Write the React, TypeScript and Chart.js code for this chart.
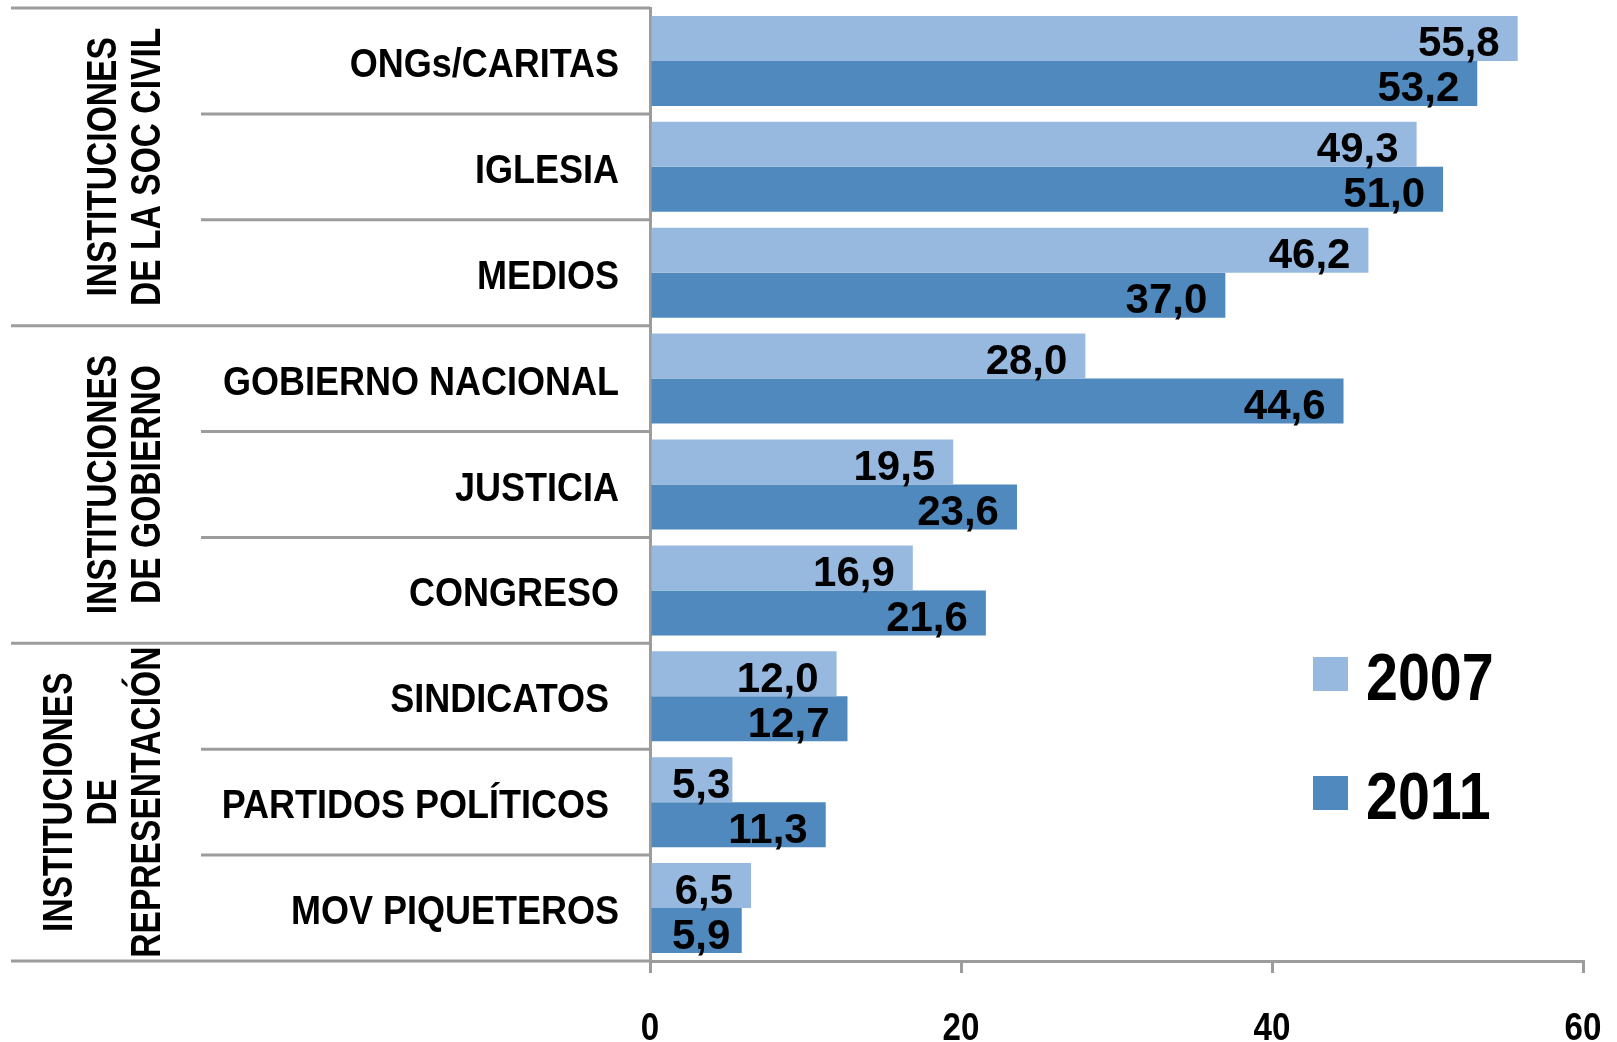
import React, { useEffect, useRef } from "react";
import { Chart, registerables } from "chart.js";
Chart.register(...registerables);

const categories = [
  "ONGs/CARITAS",
  "IGLESIA",
  "MEDIOS",
  "GOBIERNO NACIONAL",
  "JUSTICIA",
  "CONGRESO",
  "SINDICATOS ",
  "PARTIDOS POLÍTICOS ",
  "MOV PIQUETEROS",
];
const values2007 = [55.8, 49.3, 46.2, 28.0, 19.5, 16.9, 12.0, 5.3, 6.5];
const values2011 = [53.2, 51.0, 37.0, 44.6, 23.6, 21.6, 12.7, 11.3, 5.9];
const seriesLabels = ["2007", "2011"];
const seriesColors = ["#97B9E0", "#4F89BD"];
const groupLabels = [
  ["INSTITUCIONES", "DE LA SOC CIVIL"],
  ["INSTITUCIONES", "DE GOBIERNO"],
  ["INSTITUCIONES", "DE", "REPRESENTACIÓN"],
];
const groupSizes = [3, 3, 3];
const xMin = 0;
const xMax = 60;
const xStep = 20;

const GRID = "#9C9C9C";
const SANS = "'Liberation Sans', Arial, sans-serif";

const fmt = (v: number) => v.toFixed(1).replace(".", ",");

function squeezed(ctx: any, text: string, x: number, y: number, sx: number, align: string, rot = 0) {
  ctx.save();
  ctx.translate(x, y);
  if (rot) ctx.rotate(rot);
  ctx.scale(sx, 1);
  ctx.textAlign = align;
  ctx.fillText(text, 0, 0);
  ctx.restore();
}

const decorPlugin = {
  id: "decor",
  beforeDatasetsDraw(chart: any) {
    const ctx = chart.ctx;
    const ys = chart.scales.y;
    const left = chart.chartArea.left;
    const n = categories.length;
    const half = (ys.getPixelForValue(1) - ys.getPixelForValue(0)) / 2;
    const groupStarts = new Set<number>();
    let acc = 0;
    groupStarts.add(0);
    groupSizes.forEach((s) => {
      acc += s;
      groupStarts.add(acc);
    });
    ctx.save();
    ctx.strokeStyle = GRID;
    ctx.lineWidth = 3;
    for (let i = 0; i <= n; i++) {
      const py = i < n ? ys.getPixelForValue(i) - half : ys.getPixelForValue(n - 1) + half;
      const isGroup = groupStarts.has(i);
      ctx.beginPath();
      ctx.moveTo(isGroup ? 11 : 201, py);
      ctx.lineTo(left, py);
      ctx.stroke();
    }
    ctx.restore();
  },
  afterDraw(chart: any) {
    const ctx = chart.ctx;
    const ys = chart.scales.y;
    const xs = chart.scales.x;
    const left = chart.chartArea.left;
    const bottom = chart.chartArea.bottom;
    const half = (ys.getPixelForValue(1) - ys.getPixelForValue(0)) / 2;
    ctx.save();
    ctx.fillStyle = "#000";
    ctx.textBaseline = "alphabetic";

    // category labels
    ctx.font = `bold 40px ${SANS}`;
    categories.forEach((c, i) => {
      squeezed(ctx, c, left - 31, ys.getPixelForValue(i) + 16, 0.9, "right");
    });

    // group labels
    ctx.font = `bold 42px ${SANS}`;
    ctx.textBaseline = "middle";
    let start = 0;
    groupLabels.forEach((lines, g) => {
      const top = ys.getPixelForValue(start) - half;
      const bot = ys.getPixelForValue(start + groupSizes[g] - 1) + half;
      const cy = (top + bot) / 2;
      const lastX = 148;
      lines.forEach((line, li) => {
        const cx = lastX - (lines.length - 1 - li) * 44;
        squeezed(ctx, line, cx, cy, 0.8, "center", -Math.PI / 2);
      });
      start += groupSizes[g];
    });

    // x tick labels
    ctx.textBaseline = "alphabetic";
    ctx.font = `bold 39px ${SANS}`;
    xs.ticks.forEach((t: any) => {
      squeezed(ctx, String(t.value), xs.getPixelForValue(t.value), bottom + 79, 0.85, "center");
    });

    // data labels
    ctx.font = `bold 42px ${SANS}`;
    chart.data.datasets.forEach((ds: any, d: number) => {
      const meta = chart.getDatasetMeta(d);
      meta.data.forEach((bar: any, i: number) => {
        const txt = fmt(ds.data[i]);
        const w = ctx.measureText(txt).width;
        const startX = Math.max(left + 22, bar.x - 18 - w);
        squeezed(ctx, txt, startX, bar.y + 18, 1, "left");
      });
    });

    // legend
    const legendY = [657, 776];
    seriesLabels.forEach((lab, k) => {
      ctx.fillStyle = seriesColors[k];
      ctx.fillRect(1313, legendY[k], 35, 34);
      ctx.fillStyle = "#000";
      ctx.font = `bold 66px ${SANS}`;
      squeezed(ctx, lab, 1366, legendY[k] + 43, 0.87, "left");
    });
    ctx.restore();
  },
};

export default function App() {
  const ref = useRef<HTMLCanvasElement>(null);
  useEffect(() => {
    if (!ref.current) return;
    const chart = new Chart(ref.current, {
      type: "bar",
      data: {
        labels: categories,
        datasets: [
          { label: seriesLabels[0], data: values2007, backgroundColor: seriesColors[0], categoryPercentage: 0.85, barPercentage: 1 },
          { label: seriesLabels[1], data: values2011, backgroundColor: seriesColors[1], categoryPercentage: 0.85, barPercentage: 1 },
        ],
      },
      options: {
        indexAxis: "y",
        responsive: false,
        animation: false,
        layout: { padding: { top: 8, right: 34, left: 0, bottom: 0 } },
        plugins: { legend: { display: false }, tooltip: { enabled: false } },
        scales: {
          x: {
            min: xMin,
            max: xMax,
            ticks: { stepSize: xStep, display: false },
            grid: { drawOnChartArea: false, drawTicks: true, tickLength: 12, color: GRID, lineWidth: 3 },
            border: { color: GRID, width: 3 },
            afterFit: (s: any) => {
              s.height = 81;
            },
          },
          y: {
            ticks: { display: false },
            grid: { display: false, drawTicks: false },
            border: { color: GRID, width: 3 },
            afterFit: (s: any) => {
              s.width = 650;
            },
          },
        },
      },
      plugins: [decorPlugin],
    } as any);
    return () => chart.destroy();
  }, []);
  return (
    <div style={{ position: "absolute", left: 0, top: 0, width: 1617, height: 1042, background: "#fff" }}>
      <canvas ref={ref} width={1617} height={1042} style={{ display: "block" }} />
    </div>
  );
}
